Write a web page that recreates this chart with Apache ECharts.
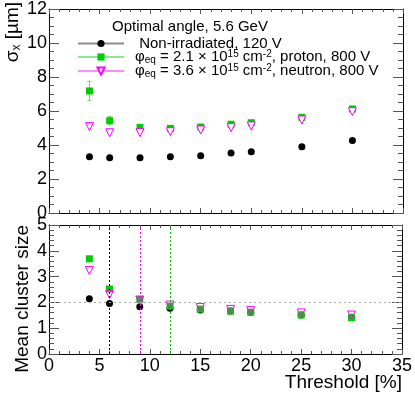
<!DOCTYPE html>
<html>
<head>
<meta charset="utf-8">
<script src="https://cdn.jsdelivr.net/npm/echarts@6/dist/echarts.min.js"></script>
<style>
  html, body { margin: 0; padding: 0; background: #fff; }
  #chart { width: 415px; height: 399px; }
</style>
</head>
<body>
<div id="chart"></div>
<script>
// threshold values [%]
const thresholds = [4, 6, 9, 12, 15, 18, 20, 25, 30]

// spatial resolution sigma_x [um]
const sigmaNonIrr = [3.31, 3.25, 3.25, 3.31, 3.37, 3.53, 3.61, 3.90, 4.27]
const sigmaProton = [7.18, 5.43, 5.04, 4.98, 5.06, 5.22, 5.31, 5.63, 6.12]
const sigmaProtonErr = [0.57, 0.25, 0.07, 0.06, 0.06, 0.06, 0.06, 0.06, 0.06]
const sigmaNeutron = [5.08, 4.72, 4.73, 4.78, 4.88, 5.02, 5.12, 5.47, 5.96]

// mean cluster size
const sizeNonIrr = [2.14, 1.96, 1.83, 1.77, 1.71, 1.67, 1.62, 1.51, 1.42]
const sizeProton = [3.69, 2.52, 2.12, 1.86, 1.74, 1.66, 1.62, 1.51, 1.41]
const sizeNeutron = [3.24, 2.31, 2.09, 1.90, 1.80, 1.73, 1.68, 1.59, 1.51]

// chosen thresholds (vertical dashed lines) and reference cluster size
const chosenThr = [6, 9, 12]
const chosenColors = ['#000000', '#ff00ff', '#00cc00']
const refClusterSize = 2

const legendNames = ['Non-irradiated, 120 V', 'proton', 'neutron']
const legendLabels = {
  'Non-irradiated, 120 V': '{n| Non-irradiated, 120 V}',
  'proton': '{n|φ}{sub|eq}{n| = 2.1 × 10}{sup|15}{n| cm}{sup|-2}{n|, proton, 800 V}',
  'neutron': '{n|φ}{sub|eq}{n| = 3.6 × 10}{sup|15}{n| cm}{sup|-2}{n|, neutron, 800 V}'
}

const pairs = (ys) => thresholds.map((x, i) => [x, ys[i]])

const font = 'Liberation Sans, Arial, sans-serif'
const tickColor = '#555'

function xAxisFor(grid, position, labels) {
  return {
    type: 'value', gridIndex: grid, position: position,
    min: 0, max: 35, interval: 5,
    axisLine: { show: true, onZero: false, lineStyle: { color: '#000', width: 1 } },
    axisTick: { show: true, inside: true, length: 5, lineStyle: { color: tickColor } },
    minorTick: { show: true, splitNumber: 5, length: 3, lineStyle: { color: tickColor } },
    splitLine: { show: false },
    axisLabel: { show: labels, margin: 3, color: '#000', fontSize: 18, fontFamily: font }
  }
}

function yAxisFor(grid, position, max, interval, minorSplit, labels) {
  return {
    type: 'value', gridIndex: grid, position: position,
    min: 0, max: max, interval: interval,
    axisLine: { show: true, onZero: false, lineStyle: { color: '#000', width: 1 } },
    axisTick: { show: true, inside: true, length: 10, lineStyle: { color: tickColor } },
    minorTick: { show: true, splitNumber: minorSplit, length: 5, lineStyle: { color: tickColor } },
    splitLine: { show: false },
    axisLabel: { show: labels, margin: 2, color: '#000', fontSize: 18, fontFamily: font }
  }
}

const chart = echarts.init(document.getElementById('chart'))

chart.setOption({
  animation: false,
  backgroundColor: '#fff',
  title: {
    text: 'Optimal angle, 5.6 GeV',
    left: 107, top: 14,
    textStyle: { fontSize: 15, fontWeight: 'normal', color: '#000', fontFamily: font }
  },
  legend: {
    data: legendNames,
    orient: 'vertical',
    left: 72, top: 31,
    itemWidth: 46, itemHeight: 9, itemGap: -2,
    lineStyle: { opacity: 0.45, width: 2 },
    formatter: (name) => legendLabels[name],
    textStyle: {
      color: '#000', fontFamily: font, padding: [0, 0, 0, 6],
      rich: {
        n: { fontSize: 15, lineHeight: 16, fontFamily: font, color: '#000' },
        sup: { fontSize: 10, lineHeight: 8, verticalAlign: 'top', fontFamily: font, color: '#000' },
        sub: { fontSize: 10, lineHeight: 8, verticalAlign: 'bottom', fontFamily: font, color: '#000' }
      }
    }
  },
  grid: [
    { left: 49, right: 12, top: 9, height: 204 },
    { left: 49, right: 12, top: 225, height: 129 }
  ],
  xAxis: [
    xAxisFor(0, 'bottom', false),
    xAxisFor(0, 'top', false),
    xAxisFor(1, 'bottom', true),
    xAxisFor(1, 'top', false)
  ],
  yAxis: [
    yAxisFor(0, 'left', 12, 2, 4, true),
    yAxisFor(0, 'right', 12, 2, 4, false),
    yAxisFor(1, 'left', 5, 1, 5, true),
    yAxisFor(1, 'right', 5, 1, 5, false)
  ],
  graphic: [
    {
      type: 'text', x: 13, y: 2, rotation: Math.PI / 2,
      style: {
        text: '{n|σ}{sub|x}{n| [µm]}', align: 'right', verticalAlign: 'middle',
        rich: {
          n: { fontSize: 19, fontFamily: font, fill: '#000' },
          sub: { fontSize: 12, fontFamily: font, fill: '#000', verticalAlign: 'bottom', lineHeight: 10 }
        }
      }
    },
    {
      type: 'text', x: 23, y: 225, rotation: Math.PI / 2,
      style: { text: 'Mean cluster size', align: 'right', verticalAlign: 'middle', fontSize: 19, fontFamily: font, fill: '#000' }
    },
    {
      type: 'text', x: 402, y: 383,
      style: { text: 'Threshold [%]', align: 'right', verticalAlign: 'middle', fontSize: 19, fontFamily: font, fill: '#000' }
    }
  ],
  series: [
    {
      name: 'Non-irradiated, 120 V', type: 'line', xAxisIndex: 0, yAxisIndex: 0,
      data: pairs(sigmaNonIrr), symbol: 'circle', symbolSize: 7,
      itemStyle: { color: '#000' }, lineStyle: { opacity: 0, color: '#000' }
    },
    {
      type: 'custom', xAxisIndex: 0, yAxisIndex: 0, silent: true,
      data: thresholds.map((x, i) => [x, sigmaProton[i], sigmaProtonErr[i]]),
      renderItem: (params, api) => {
        const top = api.coord([api.value(0), api.value(1) + api.value(2)])
        const bot = api.coord([api.value(0), api.value(1) - api.value(2)])
        const st = { stroke: '#66dd66', lineWidth: 1 }
        return {
          type: 'group', children: [
            { type: 'line', shape: { x1: top[0], y1: top[1], x2: bot[0], y2: bot[1] }, style: st },
            { type: 'line', shape: { x1: top[0] - 2, y1: top[1], x2: top[0] + 2, y2: top[1] }, style: st },
            { type: 'line', shape: { x1: bot[0] - 2, y1: bot[1], x2: bot[0] + 2, y2: bot[1] }, style: st }
          ]
        }
      }
    },
    {
      name: 'proton', type: 'line', xAxisIndex: 0, yAxisIndex: 0,
      data: pairs(sigmaProton), symbol: 'rect', symbolSize: 7,
      itemStyle: { color: '#00cc00' }, lineStyle: { opacity: 0, color: '#00cc00' }
    },
    {
      name: 'neutron', type: 'line', xAxisIndex: 0, yAxisIndex: 0,
      data: pairs(sigmaNeutron), symbol: 'triangle', symbolSize: 8, symbolRotate: 180,
      itemStyle: { color: '#fff', borderColor: '#ff00ff', borderWidth: 1 },
      lineStyle: { opacity: 0, color: '#ff00ff' }
    },
    {
      type: 'scatter', xAxisIndex: 2, yAxisIndex: 2,
      data: pairs(sizeNonIrr), symbol: 'circle', symbolSize: 7,
      itemStyle: { color: '#000', opacity: 1 },
      markLine: {
        silent: true, symbol: 'none', label: { show: false },
        data: [
          { yAxis: refClusterSize, lineStyle: { color: '#aaaaaa', type: [2, 3], width: 1 } }
        ].concat(chosenThr.map((t, i) => ({
          xAxis: t, lineStyle: { color: chosenColors[i], type: [2, 2], width: 1 }
        })))
      }
    },
    {
      type: 'scatter', xAxisIndex: 2, yAxisIndex: 2,
      data: pairs(sizeProton), symbol: 'rect', symbolSize: 7,
      itemStyle: { color: '#00cc00', opacity: 1 }
    },
    {
      type: 'scatter', xAxisIndex: 2, yAxisIndex: 2,
      data: pairs(sizeNeutron), symbol: 'triangle', symbolSize: 8, symbolRotate: 180,
      itemStyle: { color: 'rgba(0,0,0,0)', borderColor: '#ff00ff', borderWidth: 1, opacity: 1 }
    }
  ]
})
</script>
</body>
</html>
